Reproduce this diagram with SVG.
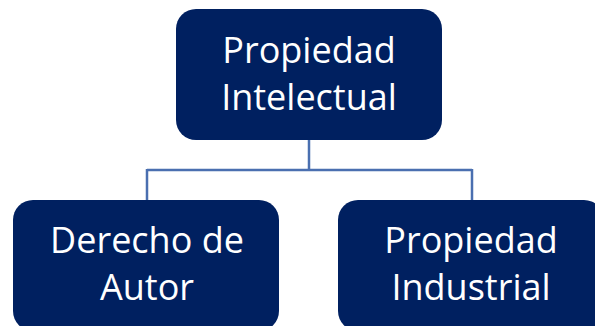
<svg xmlns="http://www.w3.org/2000/svg" width="595" height="326" viewBox="0 0 595 326">
<style>
.box{fill:#002060}
.t{font-family:"Open Sans","Noto Sans",sans-serif;font-size:36px;fill:#ffffff;text-anchor:middle}
.c{fill:none;stroke:#4a6fb0;stroke-width:2.5}
</style>
<rect width="595" height="326" fill="#ffffff"/>
<g id="connectors">
<path class="c" d="M309,140 V170 M147,170 H472 M147,169 V200 M472,169 V200"/>
</g>
<g id="node-propiedad-intelectual">
<rect class="box" x="176" y="9" width="266" height="131" rx="20"/>
<text class="t" x="309" y="63">Propiedad</text>
<text class="t" x="309" y="110">Intelectual</text>
</g>
<g id="node-derecho-autor">
<rect class="box" x="13" y="200" width="266" height="131" rx="20"/>
<text class="t" x="147" y="253">Derecho de</text>
<text class="t" x="147" y="300">Autor</text>
</g>
<g id="node-propiedad-industrial">
<rect class="box" x="338" y="200" width="266" height="131" rx="20"/>
<text class="t" x="471" y="253">Propiedad</text>
<text class="t" x="471" y="300">Industrial</text>
</g>
</svg>
